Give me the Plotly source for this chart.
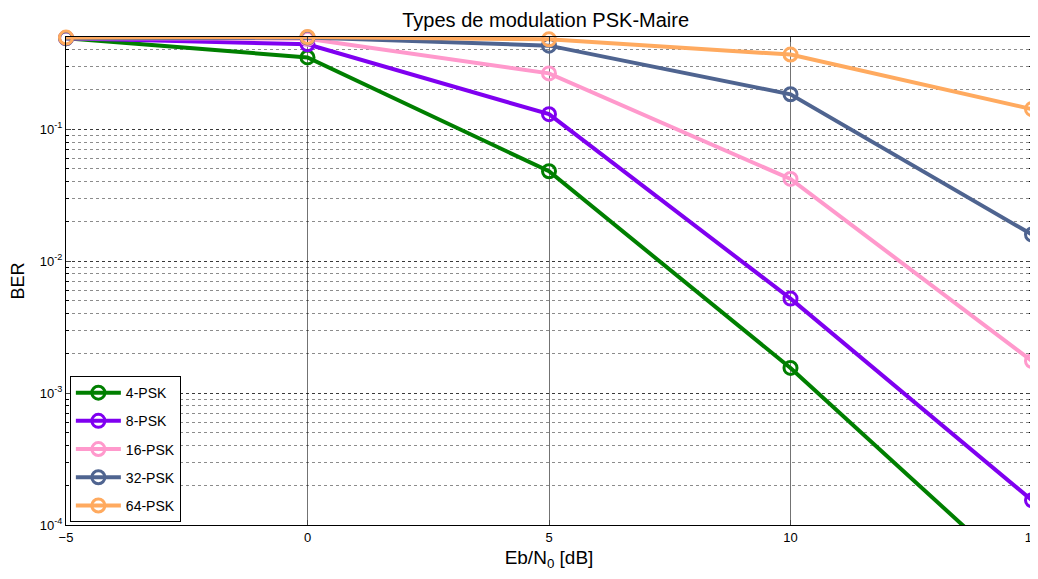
import plotly.graph_objects as go

ebn0 = [-5, 0, 5, 10, 15]
ber_4psk = [0.49, 0.35, 0.048, 0.00155, 3.3e-5]
ber_8psk = [0.49, 0.44, 0.13, 0.0052, 1.54e-4]
ber_16psk = [0.49, 0.485, 0.265, 0.042, 0.00175]
ber_32psk = [0.49, 0.495, 0.43, 0.184, 0.0159]
ber_64psk = [0.495, 0.5, 0.48, 0.368, 0.142]

names = ["4-PSK", "8-PSK", "16-PSK", "32-PSK", "64-PSK"]
series = [ber_4psk, ber_8psk, ber_16psk, ber_32psk, ber_64psk]
colors = ["#007F00", "#7F00F0", "#FF99CC", "#4F6490", "#FFAA5F"]

ytickvals = [1e-4, 1e-3, 1e-2, 1e-1]
yticktext = ["10<sup>-4</sup>", "10<sup>-3</sup>", "10<sup>-2</sup>", "10<sup>-1</sup>"]
xtickvals = [-5, 0, 5, 10, 15]

fig = go.Figure()
for i, (n, s, c) in enumerate(zip(names, series, colors)):
    fig.add_trace(go.Scatter(
        x=ebn0, y=s, name=n, mode="lines+markers",
        line=dict(color=c, width=4),
        marker=dict(symbol="circle-open", size=13, color=c, line=dict(width=3, color=c)),
        legendgroup=n, cliponaxis=(i == 0),
    ))

fig.update_layout(
    width=1030, height=571,
    margin=dict(l=58, r=6, t=29, b=54, autoexpand=False),
    paper_bgcolor="white", plot_bgcolor="white",
    font=dict(family="Arial, Liberation Sans, sans-serif", color="black"),
    title=dict(text="Types de modulation PSK-Maire", x=0.522, xanchor="center", y=0.979, yanchor="middle",
               font=dict(size=20, color="black")),
    showlegend=True,
    legend=dict(x=0.004, y=0.006, xanchor="left", yanchor="bottom",
                bgcolor="white", bordercolor="black", borderwidth=1,
                font=dict(size=14, color="black"), tracegroupgap=7, itemwidth=45),
    xaxis=dict(range=[-5, 15], tickvals=xtickvals, ticks="inside", ticklen=5,
               showline=True, linecolor="black", linewidth=1, mirror="ticks",
               showgrid=True, gridcolor="rgba(0,0,0,0.55)", gridwidth=1,
               zeroline=False, tickfont=dict(size=13), automargin=False,
               ticklabeloverflow="allow",
               title=dict(text="Eb/N<sub>0</sub> [dB]", font=dict(size=19), standoff=7)),
    yaxis=dict(type="log", range=[-4, -0.301], tickvals=ytickvals, ticktext=yticktext,
               ticks="inside", ticklen=5,
               showline=True, linecolor="black", linewidth=1, mirror="ticks",
               showgrid=True, gridcolor="rgba(0,0,0,0.6)", gridwidth=1, griddash="dot",
               minor=dict(dtick="D1", showgrid=True, gridcolor="rgba(0,0,0,0.45)", griddash="dot",
                          ticks="inside", ticklen=3, tickcolor="black"),
               zeroline=False, tickfont=dict(size=13), automargin=False,
               ticklabeloverflow="allow",
               title=dict(text="BER", font=dict(size=18), standoff=12)),
)

fig.write_html("out.html")
